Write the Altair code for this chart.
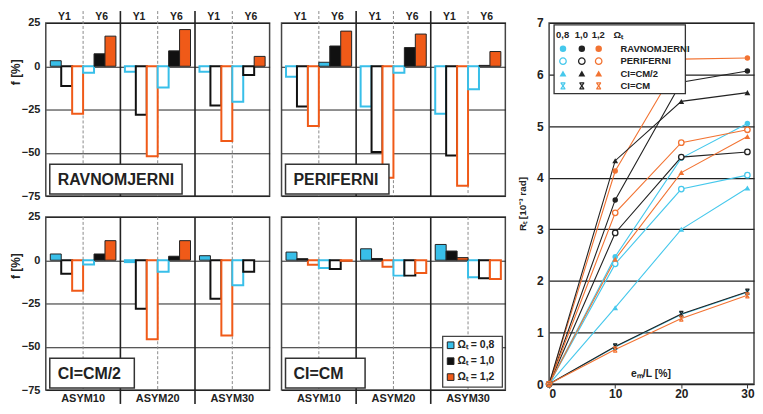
import altair as alt
import pandas as pd

FONT = "Liberation Sans"
INK = "#222222"

groups = ["ASYM10", "ASYM20", "ASYM30"]
halves = ["Y1", "Y6"]
omegas = ["0,8", "1,0", "1,2"]
panel_names = ["RAVNOMJERNI", "PERIFERNI", "CI=CM/2", "CI=CM"]

# f [%] values, order: group -> half (Y1, Y6) -> omega (0,8 / 1,0 / 1,2)
f_ravnomjerni = [3.2, -11.4, -27.5, -3.8, 7.2, 17.4,
                 -3.2, -28.0, -52.0, -12.3, 8.9, 21.2,
                 -3.2, -22.7, -43.2, -20.5, -5.1, 5.7]
f_periferni = [-6.0, -23.3, -34.5, 2.3, 11.7, 20.3,
               -23.3, -49.6, -64.4, -3.8, 10.8, 18.6,
               -27.5, -51.5, -69.0, -13.3, 0.5, 8.5]
f_cicm2 = [3.6, -7.8, -17.6, -2.5, 3.6, 11.3,
           -1.1, -28.0, -45.6, -6.6, 2.3, 11.3,
           2.6, -22.3, -43.5, -14.4, -6.6, 0.0]
f_cicm = [4.7, 0.9, -2.6, -4.5, -5.1, -0.3,
          6.6, 1.0, -3.8, -8.9, -8.9, -7.4,
          9.1, 5.3, 1.5, -9.8, -10.4, -10.8]
f_ticks = [25, 0, -25, -50, -75]

# R_t [1e-3 rad] vs e_m/L [%]
em_L = [0, 10, 20, 30]
rt_ravn_08 = [0, 2.47, 4.38, 5.05]
rt_ravn_10 = [0, 3.57, 5.85, 6.07]
rt_ravn_12 = [0, 4.13, 6.30, 6.32]
rt_peri_08 = [0, 2.33, 3.78, 4.05]
rt_peri_10 = [0, 2.93, 4.40, 4.50]
rt_peri_12 = [0, 3.32, 4.68, 4.93]
rt_cicm2_08 = [0, 1.48, 3.00, 3.80]
rt_cicm2_10 = [0, 4.33, 5.48, 5.65]
rt_cicm2_12 = [0, 2.42, 4.10, 4.80]
rt_cicm_08 = [0, 0.72, 1.35, 1.78]
rt_cicm_10 = [0, 0.73, 1.36, 1.79]
rt_cicm_12 = [0, 0.67, 1.27, 1.72]
rt_ticks = [0, 1, 2, 3, 4, 5, 6, 7]
em_ticks = [0, 10, 20, 30]

BAR_COLORS = ["#38bfe9", "#111111", "#f05a18"]
LINE_COLORS = ["#45c8ec", "#222222", "#f27332"]

W, H = 225, 174
subs = [h + " " + o for h in halves for o in omegas]
one = pd.DataFrame({"a": [0]})


def spacer(x, y):
    # invisible 1px anchor that fixes the layout bounds
    return alt.Chart(one).mark_rule(color="white", strokeWidth=0.5).encode(
        x=alt.value(x), x2=alt.value(x + 0.5), y=alt.value(y), y2=alt.value(y + 0.5))


def bar_df(vals):
    rows = []
    i = 0
    for g in groups:
        for h in halves:
            for o in omegas:
                rows.append({"group": g, "sub": h + " " + o, "omega": o, "value": vals[i]})
                i += 1
    return pd.DataFrame(rows)


def panel(vals, name, top, left, show_legend, box_w):
    df = bar_df(vals)
    gdf = pd.DataFrame({"group": groups})
    xscale = alt.Scale(domain=groups, paddingInner=0, paddingOuter=0)
    if top:
        xaxis = None
    else:
        xaxis = alt.Axis(title=None, labelFont=FONT, labelFontSize=11, labelFontWeight="bold",
                         labelColor=INK, ticks=False, domain=False, grid=False,
                         labelPadding=3, labelAngle=0)
    if left:
        yaxis = alt.Axis(values=f_ticks, grid=True, gridColor=INK, gridWidth=1, ticks=False,
                         domain=False, labels=True, labelFont=FONT, labelFontSize=11,
                         labelFontWeight="bold", labelColor=INK, labelPadding=6,
                         title="f [%]", titleFont=FONT, titleFontSize=12, titleFontWeight="bold",
                         titleColor=INK, titleX=-30, titleY=49, titleAngle=-90,
                         titleBaseline="middle")
    else:
        yaxis = alt.Axis(values=f_ticks, grid=True, gridColor=INK, gridWidth=1, ticks=False,
                         domain=False, labels=False, title=None)

    def X(bp=None):
        if bp is None:
            return alt.X("group:N", scale=xscale, axis=xaxis)
        return alt.X("group:N", scale=xscale, axis=xaxis, bandPosition=bp)

    xo = alt.XOffset("sub:N", scale=alt.Scale(domain=subs, paddingOuter=0.41, paddingInner=0))
    y = alt.Y("value:Q", scale=alt.Scale(domain=[-75, 25], nice=False, zero=False), axis=yaxis)

    filled = alt.Chart(df).transform_filter("datum.value > 0").mark_bar(
        stroke=INK, strokeWidth=1).encode(
        x=X(), xOffset=xo, y=y,
        fill=alt.Fill("omega:N", scale=alt.Scale(domain=omegas, range=BAR_COLORS), legend=None))
    hollow = alt.Chart(df).transform_filter("datum.value < 0").mark_bar(
        fill="white", strokeWidth=2).encode(
        x=X(), xOffset=xo, y=y,
        stroke=alt.Stroke("omega:N", scale=alt.Scale(domain=omegas, range=BAR_COLORS), legend=None))

    y_top = -12 if top else 0
    y_bot = H if top else H + 14
    dashed = alt.Chart(gdf).mark_rule(color="#8a8a8a", strokeWidth=1, strokeDash=[3, 2]).encode(
        x=X(0.5), y=alt.value(y_top), y2=alt.value(H))
    solid = alt.Chart(gdf).transform_filter("datum.group != 'ASYM10'").mark_rule(
        color=INK, strokeWidth=1.6).encode(
        x=X(0), y=alt.value(y_top), y2=alt.value(y_bot))

    nm = pd.DataFrame({"name": [name]})
    box = alt.Chart(nm).mark_rect(fill="white", stroke="#333", strokeWidth=1.5).encode(
        x=alt.value(4), x2=alt.value(4 + box_w), y=alt.value(142), y2=alt.value(172))
    label = alt.Chart(nm).mark_text(align="left", baseline="middle", font=FONT, fontSize=16,
                                    fontWeight="bold", color=INK).encode(
        text="name:N", x=alt.value(12), y=alt.value(158))

    layers = [dashed, solid, hollow, filled, box, label]
    if top:
        for txt, bp in (("Y1", 0.25), ("Y6", 0.75)):
            layers.append(alt.Chart(gdf).mark_text(text=txt, font=FONT, fontSize=10.5,
                                                   fontWeight="bold", color=INK,
                                                   baseline="middle").encode(
                x=X(bp), y=alt.value(-6)))
        layers.append(spacer(2, -13))
        layers.append(spacer(2, H + 8))
    else:
        layers.append(spacer(2, -9))
    if left:
        layers.append(spacer(-37, 40))
    if show_legend:
        layers.append(alt.Chart(one).mark_rect(fill="white", stroke="#444", strokeWidth=1.3).encode(
            x=alt.value(162), x2=alt.value(222), y=alt.value(120), y2=alt.value(171)))
        for i, o in enumerate(omegas):
            ld = pd.DataFrame({"txt": ["Ωₜ = " + o]})
            layers.append(alt.Chart(ld).mark_square(size=45, fill=BAR_COLORS[i], stroke=INK,
                                                    strokeWidth=1, opacity=1).encode(
                x=alt.value(170), y=alt.value(129 + 16 * i)))
            layers.append(alt.Chart(ld).mark_text(align="left", baseline="middle", font=FONT,
                                                  fontSize=10.5, fontWeight="bold",
                                                  color=INK).encode(
                text="txt:N", x=alt.value(177), y=alt.value(129 + 16 * i)))
    return alt.layer(*layers).properties(width=W, height=H)


A = panel(f_ravnomjerni, panel_names[0], True, True, False, 133)
B = panel(f_periferni, panel_names[1], True, False, False, 104)
C = panel(f_cicm2, panel_names[2], False, True, False, 85)
D = panel(f_cicm, panel_names[3], False, False, True, 80)

# ---- line chart ----
series = [
    ("RAVNOMJERNI", "0,8", rt_ravn_08), ("RAVNOMJERNI", "1,0", rt_ravn_10), ("RAVNOMJERNI", "1,2", rt_ravn_12),
    ("PERIFERNI", "0,8", rt_peri_08), ("PERIFERNI", "1,0", rt_peri_10), ("PERIFERNI", "1,2", rt_peri_12),
    ("CI=CM/2", "0,8", rt_cicm2_08), ("CI=CM/2", "1,0", rt_cicm2_10), ("CI=CM/2", "1,2", rt_cicm2_12),
    ("CI=CM", "0,8", rt_cicm_08), ("CI=CM", "1,0", rt_cicm_10), ("CI=CM", "1,2", rt_cicm_12),
]
rows = []
for t, o, vals in series:
    for e, v in zip(em_L, vals):
        rows.append({"type": t, "omega": o, "em": e, "rt": v})
ldf = pd.DataFrame(rows)

EW, EH = 206, 363
xE = alt.X("em:Q", scale=alt.Scale(domain=[0, 31], nice=False),
           axis=alt.Axis(values=em_ticks, grid=False, domain=False, ticks=True, tickColor="#333",
                         tickSize=4, labelFont=FONT, labelFontSize=12, labelFontWeight="bold",
                         labelColor=INK, labelPadding=1, title="eₘ/L [%]", titleFont=FONT,
                         titleFontSize=10.5, titleFontWeight="bold", titleColor=INK,
                         titleY=-16, titleX=102))
yE = alt.Y("rt:Q", scale=alt.Scale(domain=[0, 7], nice=False),
           axis=alt.Axis(values=rt_ticks, grid=True, gridColor=INK, gridWidth=1.2, ticks=False,
                         domain=False, labelFont=FONT, labelFontSize=12, labelFontWeight="bold",
                         labelColor=INK, labelPadding=6, title="Rₜ [10⁻³ rad]", titleFont=FONT,
                         titleFontSize=10, titleFontWeight="bold", titleColor=INK,
                         titleX=-27, titleBaseline="middle"))
cE = alt.Color("omega:N", scale=alt.Scale(domain=omegas, range=LINE_COLORS), legend=None)

X_PATH = "M-0.7,-1L0.7,1M0.7,-1L-0.7,1M-0.8,-1L0.8,-1M-0.8,1L0.8,1"


def marker(df, kind, s=1.0):
    c = alt.Chart(df)
    if kind == "RAVNOMJERNI":
        m = c.mark_point(shape="circle", filled=True, size=30 * s, opacity=1)
    elif kind == "PERIFERNI":
        m = c.mark_point(shape="circle", filled=False, fill="white", size=30 * s, strokeWidth=1.3, opacity=1)
    elif kind == "CI=CM/2":
        m = c.mark_point(shape="triangle-up", filled=True, size=34 * s, opacity=1)
    else:
        m = c.mark_point(shape=X_PATH, filled=False, size=26 * s, strokeWidth=1.2, opacity=1)
    return m.encode(x=xE, y=yE, color=cE)


types = ["RAVNOMJERNI", "PERIFERNI", "CI=CM/2", "CI=CM"]
lines = alt.Chart(ldf).mark_line(strokeWidth=1.1).encode(x=xE, y=yE, color=cE, detail="type:N")
pts = [marker(ldf[ldf["type"] == t], t) for t in types]

# legend table inside the plot (in the chart's own data units)
leg_cols = [2.1, 4.95, 7.5]
leg_rows = [6.50, 6.26, 6.02, 5.78]
leg_head_y = 6.77
leg_text_x = 10.8
leg_box = alt.Chart(one).mark_rect(fill="white", stroke="#333", strokeWidth=1.3).encode(
    x=alt.value(5), x2=alt.value(137), y=alt.value(2), y2=alt.value(71))
head_df = pd.DataFrame({"em": leg_cols + [leg_text_x], "rt": [leg_head_y] * 4,
                        "txt": omegas + ["Ωₜ"]})
head = alt.Chart(head_df).mark_text(font=FONT, fontSize=9.5, fontWeight="bold", color=INK,
                                    align="left", dx=-7).encode(x=xE, y=yE, text="txt:N")
leg_marks = []
for i, t in enumerate(types):
    d = pd.DataFrame({"em": leg_cols, "rt": [leg_rows[i]] * 3, "omega": omegas})
    leg_marks.append(marker(d, t, 1.4))
lab_df = pd.DataFrame({"em": [leg_text_x] * 4, "rt": leg_rows, "txt": types})
labs = alt.Chart(lab_df).mark_text(font=FONT, fontSize=9.5, fontWeight="bold", color=INK,
                                   align="left").encode(x=xE, y=yE, text="txt:N")

E = alt.layer(lines, *pts, leg_box, head, *leg_marks, labs, spacer(2, -13)).properties(
    width=EW, height=EH)

left = alt.vconcat(alt.hconcat(A, B, spacing=10), alt.hconcat(C, D, spacing=10), spacing=1)
chart = alt.hconcat(left, E, spacing=10).properties(padding=0).configure_view(
    stroke="#444", strokeWidth=1.5)

chart.save("out.html", embed_options={"renderer": "svg", "actions": False})
